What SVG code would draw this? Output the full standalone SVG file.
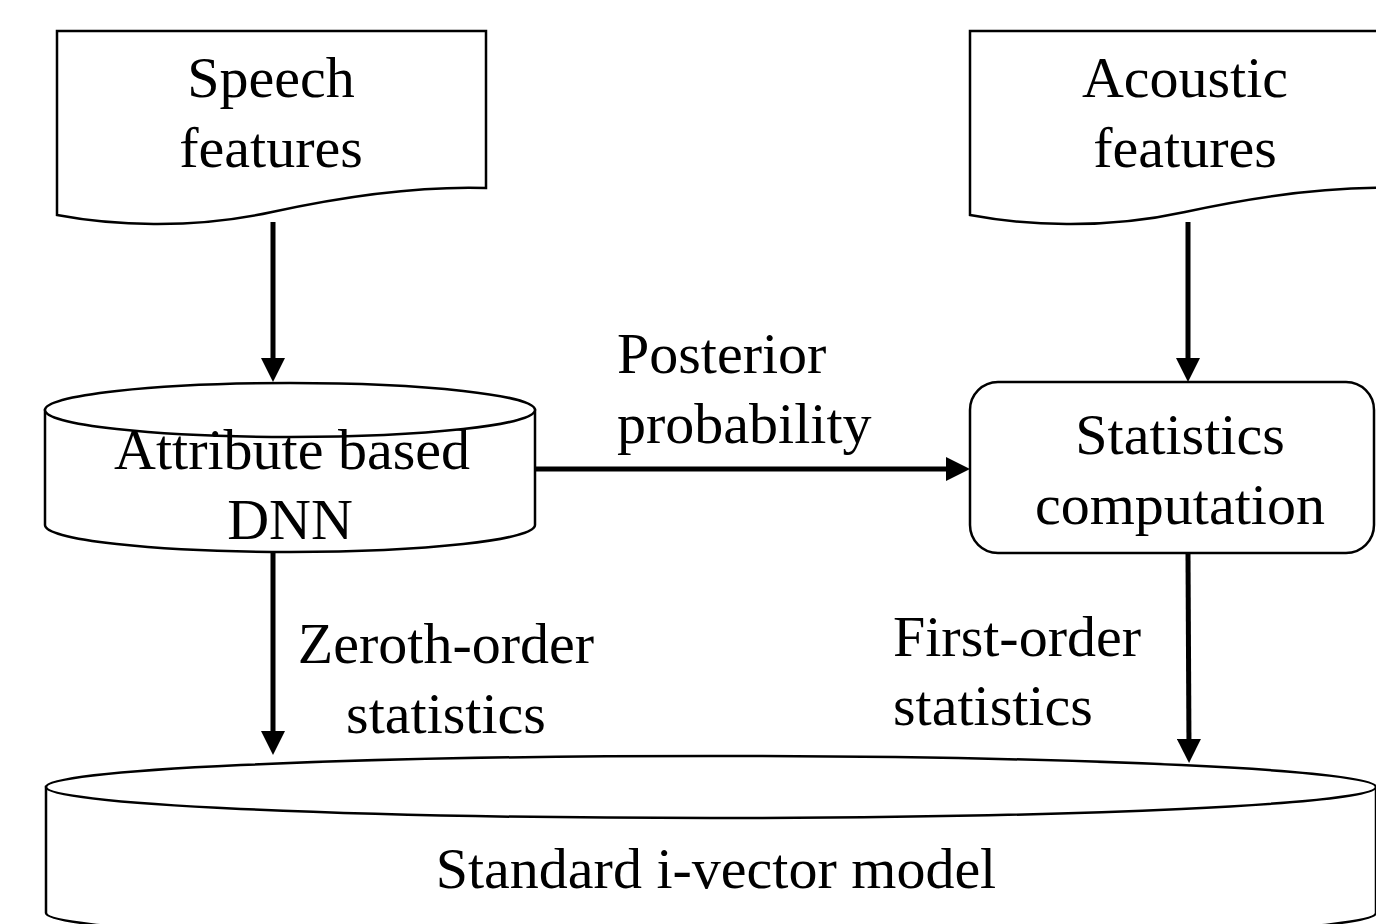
<svg xmlns="http://www.w3.org/2000/svg" width="1376" height="924" viewBox="0 0 1376 924">
  <defs>
    <style>
      .shape { fill: #ffffff; stroke: #000000; stroke-width: 2.5; }
      .edge { fill: none; stroke: #000000; stroke-width: 5; }
      .lbl { font-family: "Liberation Serif", "Times New Roman", serif; font-size: 58px; fill: #000000; }
      .mid { text-anchor: middle; }
    </style>
    <marker id="head" viewBox="0 0 24 24" refX="12" refY="12" markerWidth="24" markerHeight="24" markerUnits="userSpaceOnUse" orient="auto">
      <path d="M0,0 L24,12 L0,24 Z" fill="#000000"/>
    </marker>
  </defs>

  <rect width="1376" height="924" fill="#ffffff"/>

  <!-- input documents -->
  <g id="speech-features">
    <path class="shape" d="M57,31 H486 V188 C420,186 350,195 272,212 C190,230 110,225 57,215 Z"/>
    <text class="lbl mid" x="271" y="97">Speech</text>
    <text class="lbl mid" x="271" y="167">features</text>
  </g>

  <g id="acoustic-features">
    <path class="shape" d="M970,31 H1399 V188 C1333,186 1263,195 1185,212 C1103,230 1023,225 970,215 Z"/>
    <text class="lbl mid" x="1185" y="97">Acoustic</text>
    <text class="lbl mid" x="1185" y="167">features</text>
  </g>

  <!-- attribute-based DNN (cylinder) -->
  <g id="dnn">
    <path class="shape" d="M45,410 V525 A245,27 0 0 0 535,525 V410 Z"/>
    <ellipse class="shape" cx="290" cy="410" rx="245" ry="27"/>
    <text class="lbl mid" x="292" y="469">Attribute based</text>
    <text class="lbl mid" x="290" y="539">DNN</text>
  </g>

  <!-- statistics computation -->
  <g id="stats">
    <rect class="shape" x="970" y="382" width="404" height="171" rx="28" ry="28"/>
    <text class="lbl mid" x="1180" y="454">Statistics</text>
    <text class="lbl mid" x="1180" y="524">computation</text>
  </g>

  <!-- i-vector model (cylinder) -->
  <g id="ivector">
    <path class="shape" d="M46,787 V913 A665,31 0 0 0 1376,913 V787 Z"/>
    <ellipse class="shape" cx="711" cy="787" rx="665" ry="31"/>
    <text class="lbl mid" x="716" y="888">Standard i-vector model</text>
  </g>

  <!-- connectors -->
  <g id="connectors">
    <line class="edge" x1="273" y1="222" x2="273" y2="370" marker-end="url(#head)"/>
    <line class="edge" x1="1188" y1="222" x2="1188" y2="370" marker-end="url(#head)"/>
    <line class="edge" x1="536" y1="469" x2="958" y2="469" marker-end="url(#head)"/>
    <line class="edge" x1="273" y1="553" x2="273" y2="743" marker-end="url(#head)"/>
    <line class="edge" x1="1188" y1="554" x2="1189" y2="751" marker-end="url(#head)"/>
    <text class="lbl" x="617" y="373">Posterior</text>
    <text class="lbl" x="617" y="443">probability</text>
    <text class="lbl mid" x="446" y="663">Zeroth-order</text>
    <text class="lbl mid" x="446" y="733">statistics</text>
    <text class="lbl" x="893" y="656">First-order</text>
    <text class="lbl" x="893" y="725">statistics</text>
  </g>
</svg>
